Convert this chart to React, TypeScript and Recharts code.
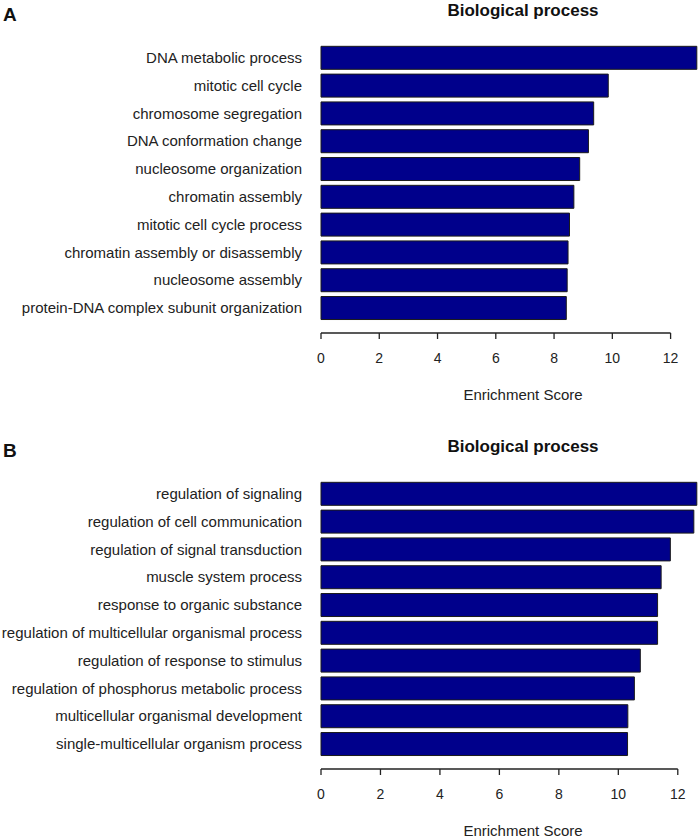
import { BarChart, Bar, XAxis, YAxis } from 'recharts';

// GO terms, top to bottom as drawn
const termsA = [
  'DNA metabolic process',
  'mitotic cell cycle',
  'chromosome segregation',
  'DNA conformation change',
  'nucleosome organization',
  'chromatin assembly',
  'mitotic cell cycle process',
  'chromatin assembly or disassembly',
  'nucleosome assembly',
  'protein-DNA complex subunit organization',
];
const scoresA = [12.9, 9.86, 9.36, 9.18, 8.88, 8.68, 8.53, 8.48, 8.45, 8.42];

const termsB = [
  'regulation of signaling',
  'regulation of cell communication',
  'regulation of signal transduction',
  'muscle system process',
  'response to organic substance',
  'regulation of multicellular organismal process',
  'regulation of response to stimulus',
  'regulation of phosphorus metabolic process',
  'multicellular organismal development',
  'single-multicellular organism process',
];
const scoresB = [12.64, 12.54, 11.75, 11.44, 11.32, 11.32, 10.74, 10.54, 10.32, 10.31];

const xTicks = [0, 2, 4, 6, 8, 10, 12];

const FONT = '"Liberation Sans", Arial, Helvetica, sans-serif';
const CHART_W = 725;
const CHART_H = 373;
const AXIS_W = 321;
const PLOT_W = CHART_W - AXIS_W;
const TOP = 44;
const PAD_BOTTOM = 11;
const X_AXIS_H = 40;
const HEADROOM = 1.075; // xlim a bit past the longest bar, like R
const TITLE_X = AXIS_W + PLOT_W / 2;

function ScoreTick(props: any) {
  const { x, y, payload, index, pxPerUnit } = props;
  const span = (xTicks[xTicks.length - 1] - xTicks[0]) * pxPerUnit;
  return (
    <g>
      {/* R only draws the axis line between the first and last tick */}
      {index === 0 && (
        <line x1={x} y1={y} x2={x + span} y2={y} stroke="#222" strokeWidth={1.3} />
      )}
      <line x1={x} y1={y} x2={x} y2={y + 6} stroke="#222" strokeWidth={1.3} />
      <text x={x} y={y + 30} textAnchor="middle" fontSize={14} fill="#222" fontFamily={FONT}>
        {payload.value}
      </text>
    </g>
  );
}

function TermTick(props: any) {
  const { x, y, payload } = props;
  return (
    <text x={x} y={y} dy={5} textAnchor="end" fontSize={15} fill="#222" fontFamily={FONT}>
      {payload.value}
    </text>
  );
}

function Panel({ letter, terms, scores, top }: { letter: string; terms: string[]; scores: number[]; top: number }) {
  const data = terms.map((term, i) => ({ term, score: scores[i] }));
  const xMax = Math.max(...scores) * HEADROOM;
  const pxPerUnit = PLOT_W / xMax;

  return (
    <div style={{ position: 'absolute', left: 0, top, width: CHART_W, height: 410 }}>
      <BarChart
        width={CHART_W}
        height={CHART_H}
        data={data}
        layout="vertical"
        margin={{ top: TOP, right: 0, bottom: 0, left: 0 }}
        barCategoryGap="8.33%"
      >
        <XAxis
          type="number"
          domain={[0, xMax]}
          ticks={xTicks}
          axisLine={false}
          tickLine={false}
          tickSize={0}
          tickMargin={0}
          height={X_AXIS_H}
          tick={<ScoreTick pxPerUnit={pxPerUnit} />}
        />
        <YAxis
          type="category"
          dataKey="term"
          width={AXIS_W}
          axisLine={false}
          tickLine={false}
          tickSize={0}
          tickMargin={19}
          interval={0}
          padding={{ top: 0, bottom: PAD_BOTTOM }}
          tick={<TermTick />}
        />
        <Bar dataKey="score" fill="#00008B" stroke="#1b1b1b" strokeWidth={1} isAnimationActive={false} />
      </BarChart>
      <svg
        width={CHART_W}
        height={410}
        style={{ position: 'absolute', left: 0, top: 0, pointerEvents: 'none', overflow: 'visible' }}
      >
        <text x={3} y={20.5} fontSize={19} fontWeight="bold" fill="#111" fontFamily={FONT}>
          {letter}
        </text>
        <text x={TITLE_X} y={15.5} textAnchor="middle" fontSize={17} fontWeight="bold" fill="#111" fontFamily={FONT}>
          Biological process
        </text>
        <text x={TITLE_X} y={399.5} textAnchor="middle" fontSize={15} fill="#222" fontFamily={FONT}>
          Enrichment Score
        </text>
      </svg>
    </div>
  );
}

export default function App() {
  return (
    <div
      style={{
        position: 'absolute',
        left: 0,
        top: 0,
        width: 699,
        height: 838,
        overflow: 'hidden',
        background: '#fff',
        fontFamily: FONT,
      }}
    >
      <Panel letter="A" terms={termsA} scores={scoresA} top={0} />
      <Panel letter="B" terms={termsB} scores={scoresB} top={436} />
    </div>
  );
}
